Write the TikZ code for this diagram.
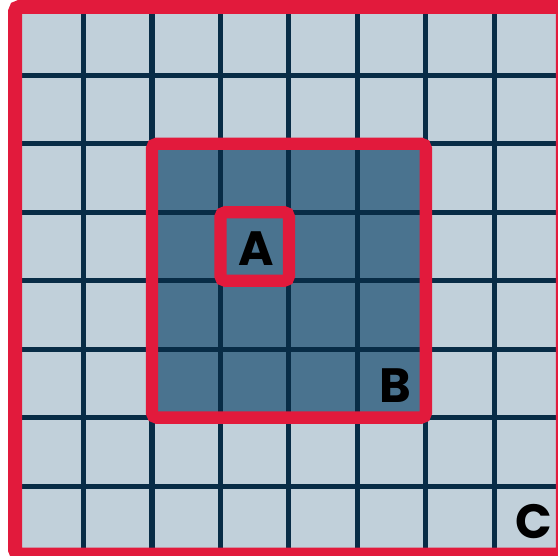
\documentclass[tikz,border=0pt]{standalone}
\usepackage{fontspec}
\setsansfont{Poppins}
\usepackage{tikz}
\usetikzlibrary{positioning}
\definecolor{cellgrey}{RGB}{193,208,218}
\definecolor{celldark}{RGB}{74,115,143}
\definecolor{gridnavy}{RGB}{8,44,70}
\definecolor{framered}{RGB}{226,26,60}
\tikzset{
  gridline/.style={draw=gridnavy,line width=0.074cm},
  outerframe/.style={draw=framered,line width=0.205cm,rounded corners=2pt},
  innerframe/.style={draw=framered,line width=0.18cm,rounded corners=2pt},
  regionlabel/.style={font=\sffamily\bfseries\fontsize{20}{20}\selectfont,text=black,inner sep=0pt},
}

\begin{document}
\begin{tikzpicture}

\useasboundingbox (-0.22,-0.02) rectangle (7.93,8.10);
\clip (-0.22,-0.02) rectangle (7.93,8.10);

% cells
\fill[cellgrey] (0,0) rectangle (8,8);
\fill[celldark] (2,2) rectangle (6,6);
\draw[gridline] (0,0) grid (8,8);

% frames
\draw[outerframe] (0,0) rectangle (8,8);
\draw[innerframe] (2,2) rectangle (6,6);
\draw[innerframe] (3,4) rectangle (4,5);

\node[regionlabel] (labA) at (3.52,4.47) {A};
\node[regionlabel] (labB) at (5.55,2.47) {B};
\node[regionlabel] (labC) at (7.57,0.48) {C};

\end{tikzpicture}
\end{document}
